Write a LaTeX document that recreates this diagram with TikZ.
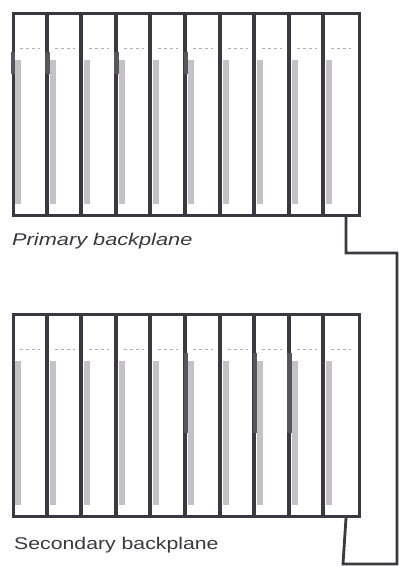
\documentclass[tikz,border=0pt]{standalone}
\usepackage{fontspec}
\setmainfont{Liberation Sans}
\usetikzlibrary{calc,positioning}
\definecolor{inkc}{HTML}{3A3840}
\definecolor{cardc}{HTML}{9C99A2}
\tikzset{
  rack/.style={draw=inkc,line width=3pt,minimum width=346pt,minimum height=202pt,inner sep=0pt,anchor=north west},
  sep/.style={inkc,line width=4pt},
  card/.style={fill=cardc!60,draw=none},
  notch/.style={fill=inkc!85,draw=none},
  cable/.style={inkc,line width=2.8pt},
  lbl/.style={font=\fontsize{17}{20}\selectfont,text=inkc,anchor=west,inner sep=0pt}
}
\newcommand{\slotw}{34.6}
\begin{document}
\begin{tikzpicture}[x=1pt,y=-1pt]
\useasboundingbox (0,0) rectangle (399,566);
% the two backplanes
\node[rack] (primary) at (12,12) {};
\node[rack] (secondary) at (12,313) {};
% cards in the slots
\foreach \r in {primary,secondary}{
  \foreach \i in {0,...,9}{
    \fill[card] ($(\r.north west)+(\i*\slotw+3,48)$) rectangle ($(\r.north west)+(\i*\slotw+9,192)$);
    \draw[cardc!80,line width=1pt,dashed] ($(\r.north west)+(\i*\slotw+8,36)$) -- ($(\r.north west)+(\i*\slotw+28,36)$);
  }
  \foreach \i in {1,...,9}{
    \draw[sep] ($(\r.north west)+(\i*\slotw,0)$) -- ($(\r.south west)+(\i*\slotw,0)$);
  }
}
\foreach \i in {0,1,3,5}{\fill[notch] ($(primary.north west)+(\i*\slotw-1.5,40)$) rectangle ($(primary.north west)+(\i*\slotw+3,62)$);}
\foreach \i in {5,7,8}{\fill[notch] ($(secondary.north west)+(\i*\slotw-1.5,40)$) rectangle ($(secondary.north west)+(\i*\slotw+3,120)$);}
% labels
\node[lbl] (plabel) at (12,241) {\scalebox{1.28}[1]{\itshape Primary backplane}};
\node[lbl] (slabel) at (14,545) {\scalebox{1.25}[1]{Secondary backplane}};
% link between the backplanes
\coordinate (ptap) at ($(primary.south east)+(-15,0)$);
\coordinate (stap) at ($(secondary.south east)+(-15,0)$);
\draw[cable] (ptap) |- (397,253) |- (343,564) -- (stap);
\end{tikzpicture}
\end{document}
